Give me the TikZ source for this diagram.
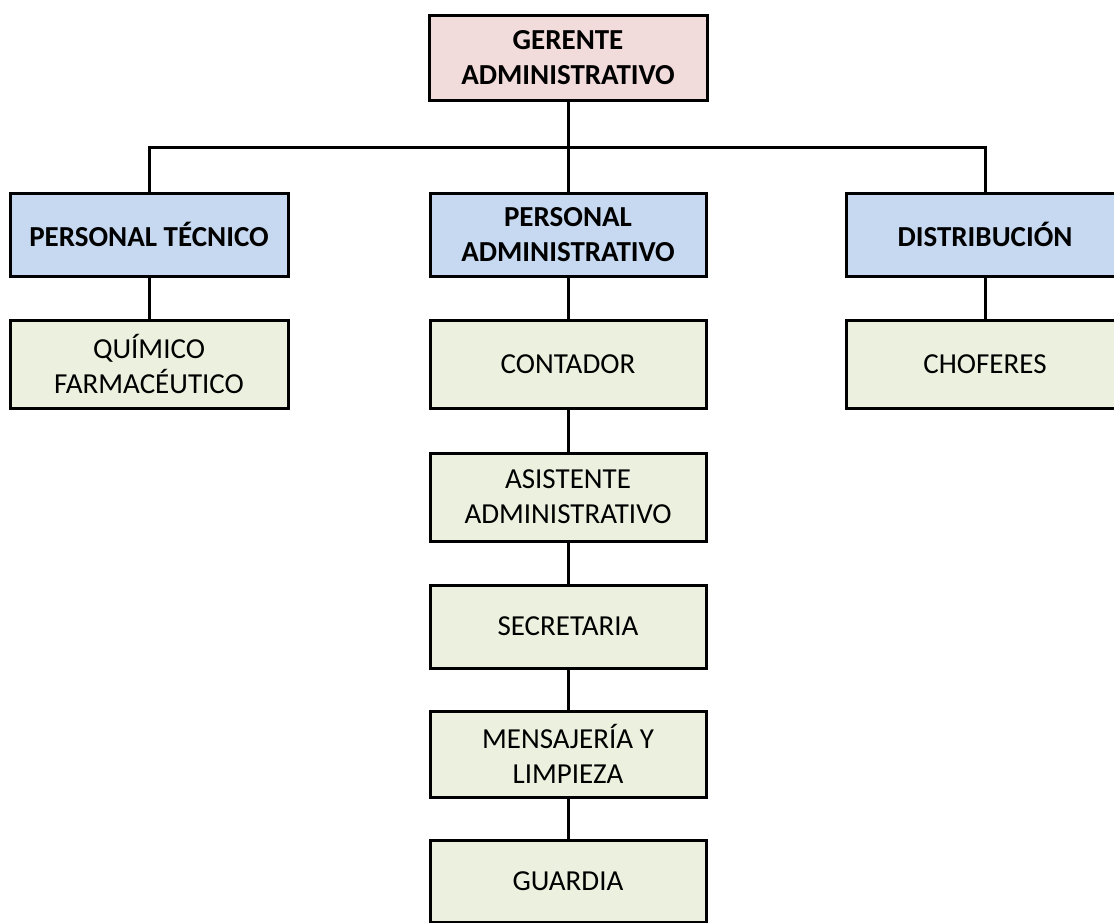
\documentclass[tikz,border=0pt]{standalone}
\usepackage{fontspec}
\setmainfont{Carlito}
\definecolor{pinkfill}{HTML}{F2DCDB}
\definecolor{bluefill}{HTML}{C6D9F1}
\definecolor{greenfill}{HTML}{EBF1DE}
\begin{document}
\begin{tikzpicture}[x=1pt,y=-1pt,
  box/.style={draw=black,line width=3pt,align=center,inner sep=0pt,
    minimum width=278pt,font=\fontsize{29}{35}\selectfont},
  topbox/.style={box,fill=pinkfill,font=\fontsize{29}{35}\selectfont\bfseries,minimum height=85pt},
  midbox/.style={box,fill=bluefill,font=\fontsize{29}{35}\selectfont\bfseries,minimum height=83pt},
  lowbox/.style={box,fill=greenfill},
  link/.style={line width=3pt}]
\useasboundingbox (0,0) rectangle (1114,922);
\node[topbox] (ger) at (568,57.5) {GERENTE\\ADMINISTRATIVO};
\node[midbox] (tec) at (149,234.5) {PERSONAL TÉCNICO};
\node[midbox,minimum width=276pt] (padm) at (568,234.5) {PERSONAL\\ADMINISTRATIVO};
\node[midbox,minimum width=277pt] (dis) at (985,234.5) {DISTRIBUCIÓN};
\node[lowbox,minimum height=88pt] (qui) at (149,364) {QUÍMICO\\FARMACÉUTICO};
\node[lowbox,minimum width=276pt,minimum height=88pt] (cont) at (568,364.5) {CONTADOR};
\node[lowbox,minimum width=277pt,minimum height=88pt] (chof) at (985,364) {CHOFERES};
\node[lowbox,minimum width=276pt,minimum height=88pt] (asis) at (568,497) {ASISTENTE\\ADMINISTRATIVO};
\node[lowbox,minimum width=276pt,minimum height=83pt] (sec) at (568,626.5) {SECRETARIA};
\node[lowbox,minimum width=276pt,minimum height=86pt] (men) at (568,754) {MENSAJERÍA Y\\LIMPIEZA};
\node[lowbox,minimum width=276pt,minimum height=82pt] (gua) at (568,881) {GUARDIA};
\coordinate (bar) at (568,147);
\draw[link] (ger.south) -- (padm.north);
\draw[link] (tec.north) |- (bar) -| (dis.north);
\draw[link] (tec) -- (qui);
\draw[link] (padm) -- (cont);
\draw[link] (dis) -- (chof);
\draw[link] (cont) -- (asis);
\draw[link] (asis) -- (sec);
\draw[link] (sec) -- (men);
\draw[link] (men) -- (gua);
\end{tikzpicture}
\end{document}
